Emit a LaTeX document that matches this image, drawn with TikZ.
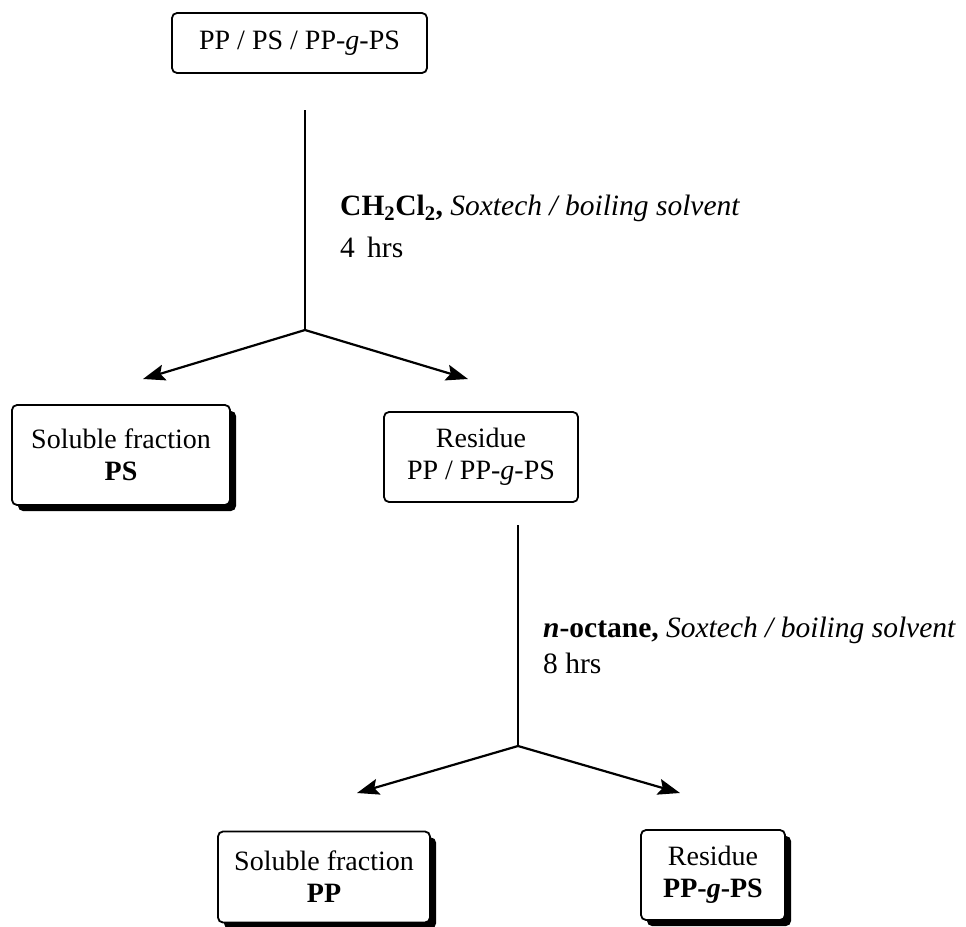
\documentclass[tikz,border=0pt]{standalone}
\usepackage{fontspec}
\setmainfont{Liberation Serif}
\usetikzlibrary{arrows.meta,shadows}
\begin{document}
\begin{tikzpicture}[x=1pt,y=-1pt,
  box/.style={draw, line width=1.8pt, rounded corners=5pt, align=center, inner sep=0pt,
    font=\fontsize{28}{32}\selectfont, fill=white},
  shbox/.style={box, drop shadow={shadow xshift=6pt, shadow yshift=-6pt, fill=black, opacity=1}},
  conn/.style={line width=2.2pt},
  arr/.style={line width=2.2pt, -{Stealth[length=22pt,width=16pt,inset=4pt]}},
  lbl/.style={anchor=base west, inner sep=0pt, font=\fontsize{29.5}{34}\selectfont}]
\useasboundingbox (0,0) rectangle (966,926);
% boxes
\node[box, minimum width=255pt, minimum height=60pt] (top) at (299.5,43) {PP / PS / PP-\textit{g}-PS};
\node[shbox, minimum width=218pt, minimum height=100pt] (ps) at (121,455) {Soluble fraction\\\textbf{PS}};
\node[box, minimum width=194pt, minimum height=90pt] (res1) at (481,457) {Residue\\PP / PP-\textit{g}-PS};
\node[shbox, minimum width=212pt, minimum height=91pt] (pp) at (324,877) {Soluble fraction\\\textbf{PP}};
\node[shbox, minimum width=144pt, minimum height=90pt] (res2) at (713,875) {Residue\\\textbf{PP-\textit{g}-PS}};
% coordinates
\coordinate (s1) at (305,110);
\coordinate (j1) at (305,330);
\coordinate (l1) at (143,379);
\coordinate (r1) at (468,379);
\coordinate (s2) at (518,525);
\coordinate (j2) at (518,746);
\coordinate (l2) at (357,793);
\coordinate (r2) at (680,793);
% connectors
\draw[conn] (s1) -- (j1);
\draw[arr] (j1) -- (l1);
\draw[arr] (j1) -- (r1);
\draw[conn] (s2) -- (j2);
\draw[arr] (j2) -- (l2);
\draw[arr] (j2) -- (r2);
% labels
\node[lbl] (c1) at (340,215) {\textbf{CH\textsubscript{2}Cl\textsubscript{2},} \textit{Soxtech / boiling solvent}};
\node[lbl] (t1) at (340,257) {4\, hrs};
\node[lbl] (c2) at (543,637) {\textbf{\textit{n}-octane,} \textit{Soxtech / boiling solvent}};
\node[lbl] (t2) at (543,673) {8 hrs};
\end{tikzpicture}
\end{document}
